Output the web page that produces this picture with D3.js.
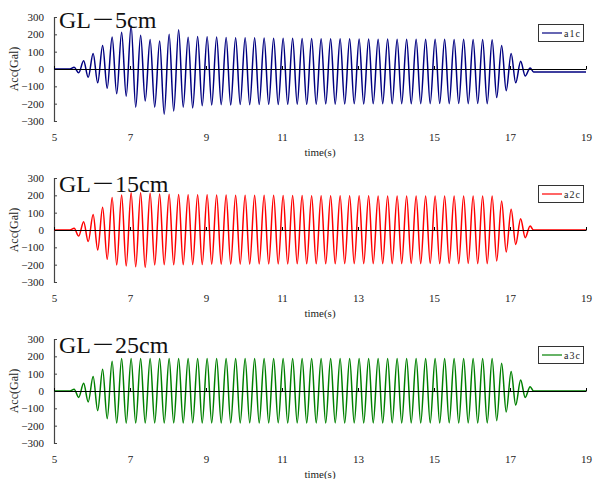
<!DOCTYPE html>
<html>
<head>
<meta charset="utf-8">
<script src="https://cdn.jsdelivr.net/npm/d3@7"></script>
<style>
body { margin: 0; background: #fff; }
svg text { font-family: "Liberation Serif", "Times New Roman", serif; fill: #222; }
</style>
</head>
<body>
<svg id="chart" width="593" height="479"></svg>
<script>
// times of the peaks / troughs (s), plus flat lead-in and tail
const times = [5, 5.42,
    5.53, 5.65, 5.78, 5.90,
    6.03, 6.15, 6.28, 6.40, 6.53, 6.65, 6.78, 6.90,
    7.03, 7.15, 7.28, 7.40, 7.53, 7.65, 7.78, 7.90,
    8.03, 8.15, 8.28, 8.40, 8.53, 8.65, 8.78, 8.90,
    9.03, 9.15, 9.28, 9.40, 9.53, 9.65, 9.78, 9.90,
    10.03, 10.15, 10.28, 10.40, 10.53, 10.65, 10.78, 10.90,
    11.03, 11.15, 11.28, 11.40, 11.53, 11.65, 11.78, 11.90,
    12.03, 12.15, 12.28, 12.40, 12.53, 12.65, 12.78, 12.90,
    13.03, 13.15, 13.28, 13.40, 13.53, 13.65, 13.78, 13.90,
    14.03, 14.15, 14.28, 14.40, 14.53, 14.65, 14.78, 14.90,
    15.03, 15.15, 15.28, 15.40, 15.53, 15.65, 15.78, 15.90,
    16.03, 16.15, 16.28, 16.40, 16.53, 16.65, 16.78, 16.90,
    17.03, 17.15, 17.28, 17.40, 17.53,
    17.62, 19];

// GL-5cm
const a1c = [0, 0,
    10, -22, 47, -48,
    90, -80, 136, -111, 184, -143, 212, -157,
    249, -220, 195, -185, 170, -220, 162, -261,
    201, -243, 226, -220, 183, -225, 187, -212,
    186, -208, 184, -206, 182, -207, 180, -205,
    181, -206, 180, -205, 179, -204, 178, -205,
    178, -204, 177, -203, 176, -204, 176, -203,
    175, -202, 175, -203, 174, -202, 174, -201,
    173, -202, 173, -201, 172, -200, 173, -201,
    172, -200, 172, -201, 171, -200, 172, -200,
    171, -199, 171, -200, 170, -199, 171, -200,
    170, -199, 170, -200, 169, -165, 135, -125,
    89, -80, 44, -40, 6,
    -17, -17];

// GL-15cm
const a2c = [0, 0,
    10, -35, 48, -67,
    90, -115, 131, -169, 188, -202, 202, -208,
    215, -212, 215, -217, 212, -202, 208, -200,
    206, -201, 205, -200, 204, -199, 203, -199,
    203, -198, 202, -198, 202, -197, 201, -197,
    201, -197, 200, -196, 200, -196, 200, -196,
    199, -196, 199, -195, 199, -195, 198, -195,
    198, -195, 198, -195, 197, -194, 197, -194,
    197, -194, 197, -194, 196, -194, 196, -194,
    196, -194, 196, -193, 196, -194, 196, -193,
    196, -194, 196, -193, 196, -194, 196, -193,
    196, -194, 196, -194, 196, -179, 167, -127,
    119, -83, 65, -44, 23,
    0, 0];

// GL-25cm
const a3c = [0, 0,
    10, -37, 44, -63,
    83, -113, 125, -160, 171, -185, 188, -186,
    188, -185, 187, -185, 188, -184, 187, -185,
    187, -184, 188, -185, 187, -184, 187, -185,
    188, -184, 187, -185, 187, -184, 188, -185,
    187, -184, 187, -185, 188, -184, 187, -184,
    187, -185, 188, -184, 187, -185, 187, -184,
    188, -185, 187, -184, 187, -185, 188, -184,
    187, -185, 187, -184, 188, -185, 187, -184,
    187, -185, 188, -184, 187, -185, 187, -184,
    188, -185, 187, -184, 187, -185, 188, -184,
    187, -185, 187, -184, 188, -171, 160, -121,
    112, -81, 63, -37, 25,
    0, 0];

const xTicks = [5, 7, 9, 11, 13, 15, 17, 19];
const yTicks = [-300, -200, -100, 0, 100, 200, 300];
const titles = [['GL', '－', '5cm'], ['GL', '－', '15cm'], ['GL', '－', '25cm']];
const legendNames = ['a1c', 'a2c', 'a3c'];
const couleurs = ['#000080', '#ff0000', '#008000'];

const svg = d3.select('#chart');
const x = d3.scaleLinear().domain([5, 19]).range([54, 586]);
const zeroY = [69, 230, 391];
const titleY = [28, 192, 353];

[a1c, a2c, a3c].forEach(function(values, i){
    plotPanel(values, i);
});

function plotPanel(values, i){
    const y0 = zeroY[i];
    const y = d3.scaleLinear().domain([-300, 300]).range([y0 + 52, y0 - 52]);
    const grp = svg.append('g');

    // y axis, ticks pointing inside
    const yAxis = grp.append('g').attr('transform', 'translate(54,0)')
        .call(d3.axisLeft(y).tickValues(yTicks).tickSizeInner(-3).tickSizeOuter(-3).tickPadding(10));
    yAxis.attr('font-size', 11).attr('font-family', null);
    yAxis.select('.domain').attr('stroke', '#444').attr('stroke-width', 1.2);
    yAxis.selectAll('.tick line').attr('stroke', '#444');
    yAxis.selectAll('.tick text').attr('fill', '#222');

    // the record
    const line = d3.line()
        .x(function(d, k){ return x(times[k]); })
        .y(function(d){ return y(d); })
        .curve(d3.curveMonotoneX);
    grp.append('path').datum(values)
        .attr('fill', 'none')
        .attr('stroke', couleurs[i])
        .attr('stroke-width', 1.5)
        .attr('d', line);

    // zero line with small ticks on top of the record
    const zAxis = grp.append('g').attr('transform', 'translate(0,' + y0 + ')')
        .call(d3.axisBottom(x).tickValues(xTicks).tickSizeInner(-3).tickSizeOuter(0).tickFormat(''));
    zAxis.select('.domain').attr('stroke', '#000');
    zAxis.selectAll('.tick line').attr('stroke', '#000');

    // x tick labels below the panel
    const xLab = grp.append('g').attr('transform', 'translate(0,' + (y0 + 64) + ')')
        .call(d3.axisBottom(x).tickValues(xTicks).tickSize(0).tickPadding(0));
    xLab.attr('font-size', 11).attr('font-family', null);
    xLab.select('.domain').remove();
    xLab.selectAll('.tick text').attr('fill', '#222');

    grp.append('text')
        .attr('x', 320).attr('y', y0 + 87)
        .attr('text-anchor', 'middle')
        .attr('font-size', 11)
        .text('time(s)');

    grp.append('text')
        .attr('transform', 'translate(18,' + y0 + ') rotate(-90)')
        .attr('text-anchor', 'middle')
        .attr('font-size', 12)
        .text('Acc(Gal)');

    const title = grp.append('text')
        .attr('x', 59).attr('y', titleY[i])
        .attr('font-size', 24)
        .style('fill', '#111');
    title.append('tspan').text(titles[i][0]);
    title.append('tspan').style('font-family', '"Noto Sans CJK JP"').style('font-weight', 300).text(titles[i][1]);
    title.append('tspan').text(titles[i][2]);

    // legend
    const leg = grp.append('g').attr('transform', 'translate(538,' + (y0 - 45) + ')');
    leg.append('rect')
        .attr('x', 0.5).attr('y', 0.5).attr('width', 45).attr('height', 17)
        .attr('fill', '#fff').attr('stroke', '#333');
    leg.append('line')
        .attr('x1', 4).attr('x2', 24).attr('y1', 9).attr('y2', 9)
        .attr('stroke', couleurs[i]).attr('stroke-width', 1.2);
    leg.append('text')
        .attr('x', 26).attr('y', 12.5)
        .attr('font-size', 10)
        .attr('letter-spacing', 1)
        .text(legendNames[i]);
}
</script>
</body>
</html>
